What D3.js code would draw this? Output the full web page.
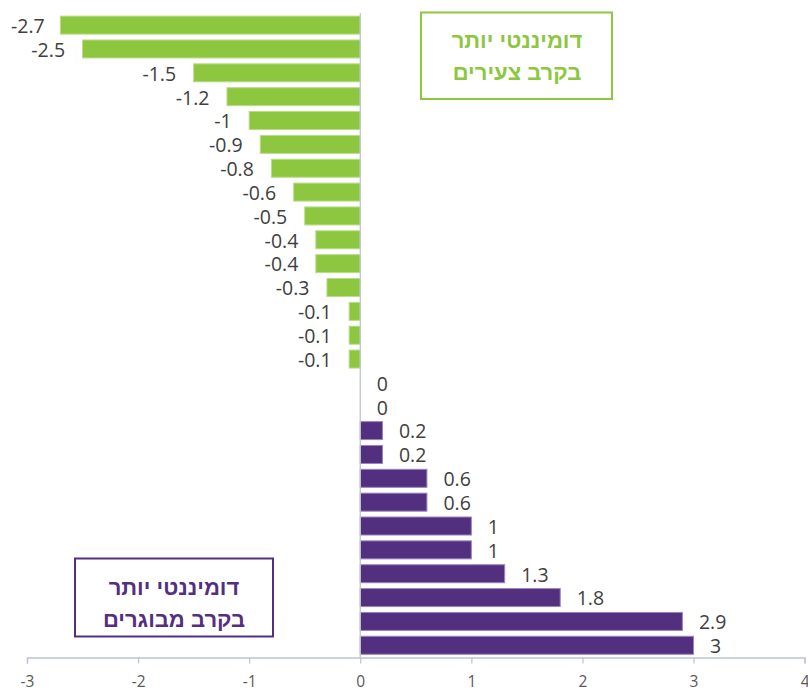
<!DOCTYPE html>
<html>
<head>
<meta charset="utf-8">
<script src="https://cdn.jsdelivr.net/npm/d3@7"></script>
<style>
  html, body { margin: 0; padding: 0; background: #fff; }
  svg { display: block; }
</style>
</head>
<body>
<svg id="chart" width="808" height="688"></svg>
<script>
// ---- data ----
const categories = ["1","2","3","4","5","6","7","8","9","10","11","12","13","14","15","16","17","18","19","20","21","22","23","24","25","26","27"];
const values = [-2.7, -2.5, -1.5, -1.2, -1, -0.9, -0.8, -0.6, -0.5, -0.4, -0.4, -0.3, -0.1, -0.1, -0.1, 0, 0, 0.2, 0.2, 0.6, 0.6, 1, 1, 1.3, 1.8, 2.9, 3];
const xTicks = [-3, -2, -1, 0, 1, 2, 3, 4];
const youngLabel = ["דומיננטי יותר", "בקרב צעירים"];
const oldLabel = ["דומיננטי יותר", "בקרב מבוגרים"];

const data = categories.map((c, i) => ({ cat: c, value: values[i] }));

const svg = d3.select("#chart");
const GREEN = "#8dc63f", GREEN_STROKE = "#bcdc8a";
const PURPLE = "#53307f", PURPLE_STROKE = "#9a84bf";
const AXIS = "#bfc5cf";
const TEXT = "#404040";

const x = d3.scaleLinear().domain([-3, 4]).range([27, 804.6]);
const y = d3.scaleBand().domain(categories).range([13.2, 657.2])
  .paddingInner(0.245).paddingOuter(0.1225);

// bars
svg.append("g").selectAll("rect")
  .data(data.filter(d => d.value !== 0))
  .join("rect")
  .attr("x", d => x(Math.min(0, d.value)))
  .attr("y", d => y(d.cat))
  .attr("width", d => Math.abs(x(d.value) - x(0)))
  .attr("height", y.bandwidth())
  .attr("fill", d => d.value < 0 ? GREEN : PURPLE)
  .attr("stroke", d => d.value < 0 ? GREEN_STROKE : PURPLE_STROKE)
  .attr("stroke-width", 1);

// vertical zero line
svg.append("line")
  .attr("x1", x(0)).attr("x2", x(0))
  .attr("y1", 13).attr("y2", 658)
  .attr("stroke", AXIS).attr("stroke-width", 1.3);

// x axis
const axisG = svg.append("g").attr("transform", "translate(0,657.5)")
  .call(d3.axisBottom(x).tickValues(xTicks).tickSize(6).tickPadding(12).tickFormat(d3.format("d")));
axisG.select(".domain").attr("stroke", AXIS).attr("stroke-width", 1.3);
axisG.selectAll(".tick line").attr("stroke", AXIS).attr("stroke-width", 1.3);
axisG.selectAll(".tick text")
  .attr("font-family", "'Open Sans', sans-serif")
  .attr("font-size", 15.5)
  .attr("fill", "#595959")
  .text(d => d < 0 ? "-" + Math.abs(d) : d);

// value labels
const labels = svg.append("g").selectAll("text")
  .data(data)
  .join("text")
  .attr("font-family", "'Open Sans', sans-serif")
  .attr("font-size", 19.5)
  .attr("fill", TEXT)
  .attr("y", d => y(d.cat) + y.bandwidth() / 2 + 1)
  .attr("dy", "0.35em")
  .text(d => d.value < 0 ? "-" + Math.abs(d.value) : String(d.value));

labels.each(function (d) {
  const t = d3.select(this);
  if (d.value < 0) {
    const w = this.getComputedTextLength();
    let endX = x(d.value) - 17.5;
    if (endX - w < 11) endX = 11 + w;
    t.attr("x", endX).attr("text-anchor", "end");
  } else {
    t.attr("x", x(d.value) + 16.5).attr("text-anchor", "start");
  }
});

// annotation boxes
function box(x0, y0, w, h, color, lines, cx, ly) {
  svg.append("rect")
    .attr("x", x0).attr("y", y0).attr("width", w).attr("height", h)
    .attr("fill", "#fff").attr("stroke", color).attr("stroke-width", 2);
  lines.forEach((l, i) => {
    svg.append("text")
      .attr("x", cx).attr("y", ly[i])
      .attr("text-anchor", "middle")
      .attr("direction", "rtl")
      .attr("font-family", "'Liberation Sans', 'DejaVu Sans', sans-serif")
      .attr("font-weight", "bold")
      .attr("font-size", 22)
      .attr("fill", color)
      .text(l);
  });
}
box(421, 12.5, 191, 86.5, GREEN, youngLabel, 517, [48, 80]);
box(75, 558.5, 198, 78, PURPLE, oldLabel, 174, [595, 627]);
</script>
</body>
</html>
